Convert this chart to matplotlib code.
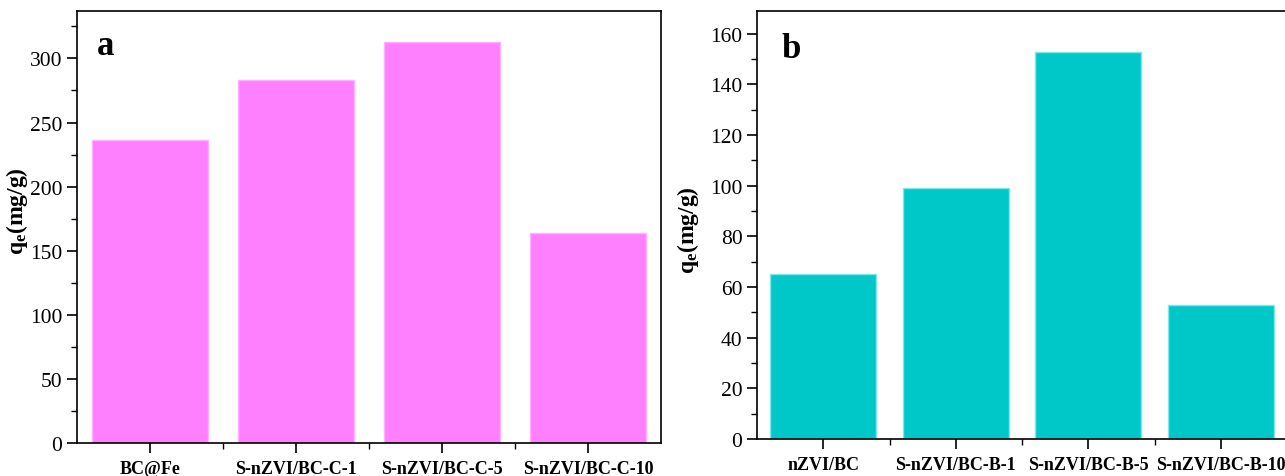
import matplotlib
matplotlib.use("Agg")
import matplotlib.pyplot as plt
from matplotlib.ticker import MultipleLocator, FixedLocator

plt.rcParams['font.family'] = ['Liberation Serif', 'DejaVu Serif']
plt.rcParams['mathtext.fontset'] = 'custom'
plt.rcParams['mathtext.rm'] = 'Liberation Serif'
plt.rcParams['mathtext.bf'] = 'Liberation Serif:bold'

cats_a = ["BC@Fe", "S-nZVI/BC-C-1", "S-nZVI/BC-C-5", "S-nZVI/BC-C-10"]
vals_a = [236, 283, 313, 164]
cats_b = ["nZVI/BC", "S-nZVI/BC-B-1", "S-nZVI/BC-B-5", "S-nZVI/BC-B-10"]
vals_b = [65, 99, 153, 53]
ylabel = r"$\mathbf{q_e}$" + "(mg/g)"

fig = plt.figure(figsize=(12.85, 4.77), dpi=100)
ax1 = fig.add_axes([77/1285, 1-444/477, 584/1285, 432/477])
ax2 = fig.add_axes([757/1285, 1-440/477, 530/1285, 428/477])

def style(ax, cats, vals, color, edge, ymax, major, minor, letter, lx, ly):
    x = list(range(len(cats)))
    ax.bar(x, vals, width=0.8, color=color, edgecolor=edge, linewidth=1.0, zorder=2)
    ax.set_xlim(-0.5, len(cats) - 0.5)
    ax.set_ylim(0, ymax)
    ax.set_xticks(x)
    ax.set_xticklabels(cats, fontsize=13, fontweight='bold')
    ax.xaxis.set_minor_locator(FixedLocator([i + 0.5 for i in range(len(cats) - 1)]))
    ax.yaxis.set_major_locator(MultipleLocator(major))
    ax.yaxis.set_minor_locator(MultipleLocator(minor))
    ax.tick_params(axis='both', which='major', direction='out', length=7, width=1.2, labelsize=15.5)
    ax.tick_params(axis='x', which='major', labelsize=13, pad=5)
    ax.tick_params(axis='both', which='minor', direction='out', length=4, width=1.0)
    for s in ax.spines.values():
        s.set_linewidth(1.2)
    ax.set_ylabel(ylabel, fontsize=17, fontweight='bold')
    ax.text(lx, ly, letter, transform=ax.transAxes, fontsize=25,
            fontweight='bold', va='baseline', ha='left')

style(ax1, cats_a, vals_a, '#FF80FF', '#FFB0FF', 337, 50, 25, 'a', 0.034, 0.90)
style(ax2, cats_b, vals_b, '#00C8C8', '#80E8E8', 169, 20, 10, 'b', 0.047, 0.8925)
ax1.yaxis.set_label_coords(-0.080, 0.54)
ax2.yaxis.set_label_coords(-0.105, 0.49)

fig.savefig("out.png", dpi=100)
